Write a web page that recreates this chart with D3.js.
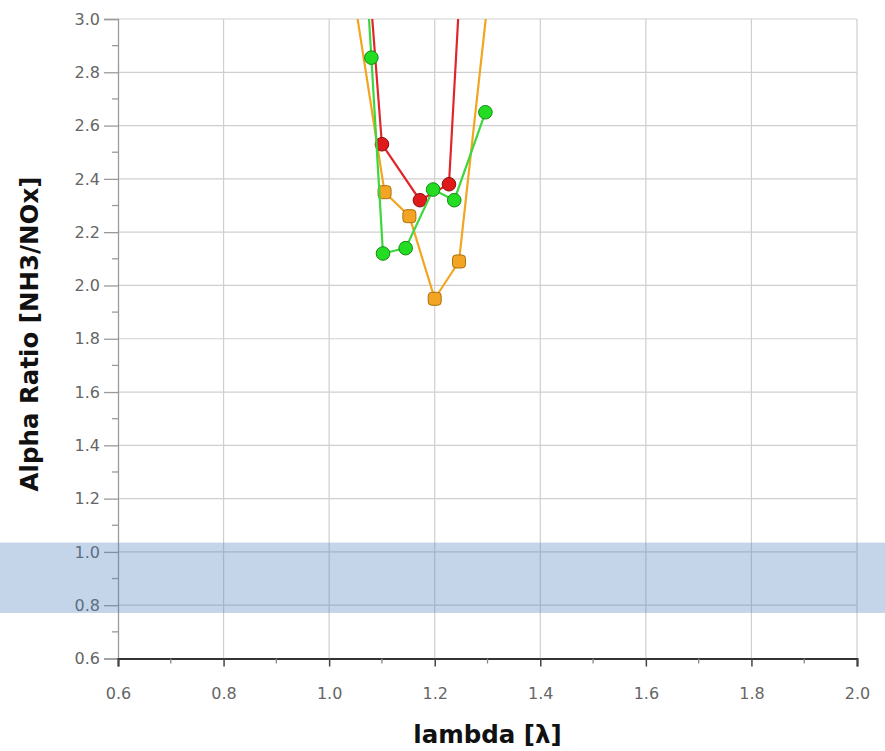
<!DOCTYPE html>
<html>
<head>
<meta charset="utf-8">
<script src="https://cdn.jsdelivr.net/npm/d3@7"></script>
<style>
  body { margin: 0; background: #fff; }
  svg { display: block; }
</style>
</head>
<body>
<div id="chart"></div>
<script>
// lambda values and alpha ratios
const orangeX = [1.05, 1.105, 1.152, 1.20, 1.246, 1.30];
const orangeY = [3.05, 2.35, 2.26, 1.95, 2.09, 3.06];

const redX = [1.07, 1.10, 1.172, 1.227, 1.25];
const redY = [3.30, 2.53, 2.32, 2.38, 3.20];

const greenX = [1.07, 1.08, 1.102, 1.145, 1.197, 1.237, 1.296];
const greenY = [3.18, 2.855, 2.12, 2.14, 2.36, 2.32, 2.65];

const xTicks = [0.6, 0.8, 1.0, 1.2, 1.4, 1.6, 1.8, 2.0];
const yTicks = [0.6, 0.8, 1.0, 1.2, 1.4, 1.6, 1.8, 2.0, 2.2, 2.4, 2.6, 2.8, 3.0];
const band = [0.771, 1.035]; // shaded target range

const width = 885, height = 751;
const margin = { top: 19, right: 28, bottom: 92.5, left: 118 };
const innerW = width - margin.left - margin.right;
const innerH = height - margin.top - margin.bottom;

const svg = d3.select('#chart')
  .append('svg')
  .attr('width', width)
  .attr('height', height);

const x = d3.scaleLinear().domain([0.6, 2.0]).range([margin.left, margin.left + innerW]);
const y = d3.scaleLinear().domain([0.6, 3.0]).range([margin.top + innerH, margin.top]);

svg.append('clipPath').attr('id', 'plot-clip')
  .append('rect')
  .attr('x', margin.left).attr('y', margin.top)
  .attr('width', innerW).attr('height', innerH);

// grid
svg.append('g')
  .selectAll('line')
  .data(xTicks.slice(1))
  .enter().append('line')
  .attr('x1', d => x(d)).attr('x2', d => x(d))
  .attr('y1', margin.top).attr('y2', margin.top + innerH)
  .attr('stroke', '#cfcfcf').attr('stroke-width', 1.2);

svg.append('g')
  .selectAll('line')
  .data(yTicks.slice(1))
  .enter().append('line')
  .attr('x1', margin.left).attr('x2', margin.left + innerW)
  .attr('y1', d => y(d)).attr('y2', d => y(d))
  .attr('stroke', '#cfcfcf').attr('stroke-width', 1.2);

// y axis
const yMinor = d3.range(0.7, 3.0, 0.2);
const yAxis = svg.append('g').attr('transform', `translate(${margin.left},0)`);
yAxis.call(d3.axisLeft(y).tickValues(yTicks).tickFormat(d3.format('.1f')).tickSize(14).tickPadding(4));
yAxis.select('.domain').attr('stroke', '#9a9a9a').attr('stroke-width', 1.3);
yAxis.selectAll('.tick line').attr('stroke', '#9a9a9a').attr('stroke-width', 1.3);
yAxis.selectAll('.tick text')
  .attr('fill', '#666').attr('font-family', 'DejaVu Sans, sans-serif').attr('font-size', 16);
yAxis.selectAll('.minor')
  .data(yMinor)
  .enter().append('line')
  .attr('x1', -6).attr('x2', 0)
  .attr('y1', d => y(d)).attr('y2', d => y(d))
  .attr('stroke', '#9a9a9a').attr('stroke-width', 1.3);

// x axis
const xMinor = d3.range(0.7, 2.0, 0.2);
const xAxis = svg.append('g').attr('transform', `translate(0,${margin.top + innerH})`);
xAxis.call(d3.axisBottom(x).tickValues(xTicks).tickFormat(d3.format('.1f')).tickSize(8).tickPadding(21));
xAxis.select('.domain').attr('stroke', '#333').attr('stroke-width', 2);
xAxis.selectAll('.tick line').attr('stroke', '#444').attr('stroke-width', 1.5);
xAxis.selectAll('.tick text')
  .attr('fill', '#666').attr('font-family', 'DejaVu Sans, sans-serif').attr('font-size', 16);
xAxis.selectAll('.minor')
  .data(xMinor)
  .enter().append('line')
  .attr('x1', d => x(d)).attr('x2', d => x(d))
  .attr('y1', 0).attr('y2', 5)
  .attr('stroke', '#888').attr('stroke-width', 1.3);

// axis titles
svg.append('text')
  .attr('x', margin.left + innerW / 2)
  .attr('y', 743)
  .attr('text-anchor', 'middle')
  .attr('font-family', 'DejaVu Sans, sans-serif')
  .attr('font-weight', 'bold')
  .attr('font-size', 24.5)
  .attr('fill', '#111')
  .text('lambda [λ]');

svg.append('text')
  .attr('transform', 'translate(38,334) rotate(-90)')
  .attr('text-anchor', 'middle')
  .attr('font-family', 'DejaVu Sans, sans-serif')
  .attr('font-weight', 'bold')
  .attr('font-size', 24.5)
  .attr('fill', '#111')
  .text('Alpha Ratio [NH3/NOx]');

// series
const series = [
  { xs: orangeX, ys: orangeY, line: '#f2a51f', fill: '#f4a423', edge: '#a8700e', shape: 'square' },
  { xs: redX, ys: redY, line: '#e0262a', fill: '#e01a1a', edge: '#8a1010', shape: 'circle' },
  { xs: greenX, ys: greenY, line: '#3ed63e', fill: '#22dd22', edge: '#138a13', shape: 'circle' }
];

const plot = svg.append('g').attr('clip-path', 'url(#plot-clip)');
const line = d3.line().x(d => x(d[0])).y(d => y(d[1]));

series.forEach(s => {
  const pts = s.xs.map((v, i) => [v, s.ys[i]]);
  const g = plot.append('g');
  g.append('path')
    .datum(pts)
    .attr('d', line)
    .attr('fill', 'none')
    .attr('stroke', s.line)
    .attr('stroke-width', 2.2);
  if (s.shape === 'square') {
    g.selectAll('rect')
      .data(pts)
      .enter().append('rect')
      .attr('x', d => x(d[0]) - 6.5).attr('y', d => y(d[1]) - 6.5)
      .attr('width', 13).attr('height', 13).attr('rx', 3.5)
      .attr('fill', s.fill).attr('stroke', s.edge).attr('stroke-width', 1);
  } else {
    g.selectAll('circle')
      .data(pts)
      .enter().append('circle')
      .attr('cx', d => x(d[0])).attr('cy', d => y(d[1]))
      .attr('r', 6.8)
      .attr('fill', s.fill).attr('stroke', s.edge).attr('stroke-width', 1);
  }
});

// shaded band across the whole width
svg.append('rect')
  .attr('x', 0).attr('width', width)
  .attr('y', y(band[1]))
  .attr('height', y(band[0]) - y(band[1]))
  .attr('fill', '#4f81bd')
  .attr('fill-opacity', 0.33);
</script>
</body>
</html>
